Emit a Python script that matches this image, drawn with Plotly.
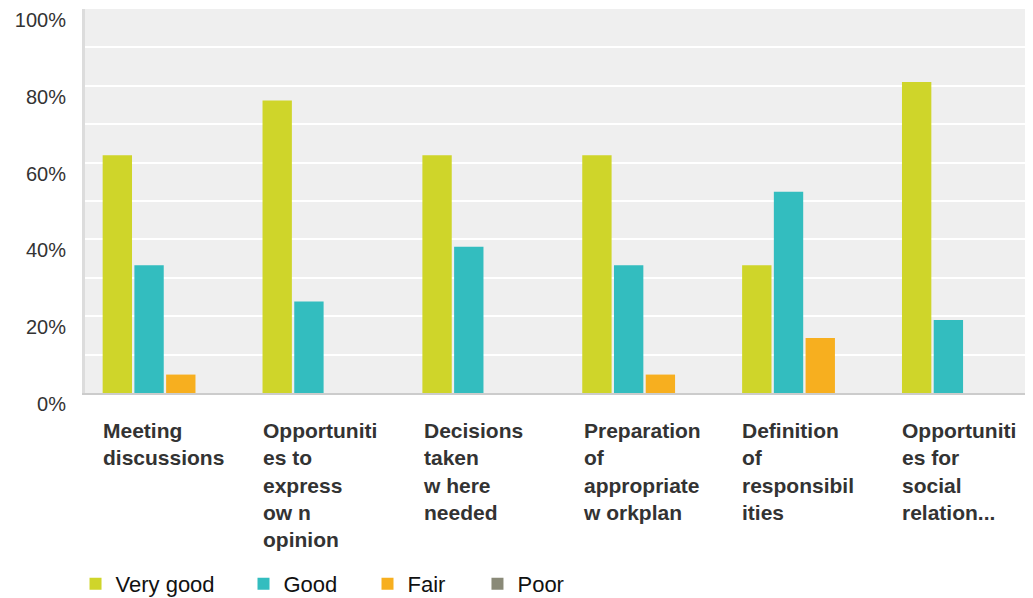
import plotly.graph_objects as go

categories = [
    "Meeting discussions",
    "Opportunities to express own opinion",
    "Decisions taken where needed",
    "Preparation of appropriate workplan",
    "Definition of responsibilities",
    "Opportunities for social relation...",
]
tick_labels = [
    "Meeting<br>discussions",
    "Opportuniti<br>es to<br>express<br>ow n<br>opinion",
    "Decisions<br>taken<br>w here<br>needed",
    "Preparation<br>of<br>appropriate<br>w orkplan",
    "Definition<br>of<br>responsibil<br>ities",
    "Opportuniti<br>es for<br>social<br>relation...",
]
series_names = ["Very good", "Good", "Fair", "Poor"]
very_good = [61.9, 76.2, 61.9, 61.9, 33.3, 81.0]
good = [33.3, 23.8, 38.1, 33.3, 52.4, 19.0]
fair = [4.8, 0, 0, 4.8, 14.3, 0]
poor = [0, 0, 0, 0, 0, 0]
y_ticks = [0, 20, 40, 60, 80, 100]
y_tick_text = ["0%", "20%", "40%", "60%", "80%", "100%"]

colors = ["#CFD52A", "#33BDBF", "#F7AF1F", "#8A8A78"]
values = [very_good, good, fair, poor]
legend_ids = ["legend", "legend2", "legend3", "legend4"]
legend_x = [-0.0100, 0.1672, 0.2980, 0.4140]

FONT = "Liberation Sans, Arial, sans-serif"

fig = go.Figure()
for name, vals, col, lid in zip(series_names, values, colors, legend_ids):
    fig.add_trace(go.Bar(
        x=categories, y=vals, name=name,
        marker=dict(color=col, line=dict(width=0)),
        hoverinfo="skip", legend=lid,
    ))

for cat, lab in zip(categories, tick_labels):
    fig.add_annotation(
        x=cat, xref="x", y=0, yref="paper",
        text="<b>" + lab + "</b>",
        showarrow=False, xanchor="left", yanchor="top",
        align="left", xshift=-64, yshift=-24,
        font=dict(family=FONT, size=21, color="#333333"),
    )

legend_common = dict(
    orientation="h", xanchor="left", y=-0.497, yanchor="middle",
    font=dict(family=FONT, size=22, color="#111111"),
    bgcolor="rgba(0,0,0,0)",
)
layout_legends = {}
for lid, lx in zip(legend_ids, legend_x):
    layout_legends[lid] = dict(legend_common, x=lx)

fig.update_layout(
    width=1025, height=590,
    margin=dict(l=77, r=0, t=1, b=205, autoexpand=False),
    paper_bgcolor="white",
    plot_bgcolor="#EFEFEF",
    barmode="group",
    bargap=0.206,
    bargroupgap=0.075,
    font=dict(family=FONT, size=19, color="#333333"),
    showlegend=True,
    xaxis=dict(
        range=[-0.5, 5.43], automargin=False,
        showticklabels=False, showgrid=False, zeroline=False,
        showline=True, linecolor="#CCCCCC", linewidth=2,
        ticks="",
    ),
    yaxis=dict(
        range=[0, 100], tickvals=y_ticks, ticktext=y_tick_text,
        automargin=False,
        showgrid=True, gridcolor="white", gridwidth=2,
        minor=dict(dtick=10, showgrid=True, gridcolor="white", gridwidth=2),
        zeroline=False, showline=True, linecolor="#DCDCDC", linewidth=3,
        ticks="", ticklabelstandoff=12, ticklabelshift=11,
        ticklabeloverflow="allow",
        tickfont=dict(family=FONT, size=20, color="#333333"),
    ),
    **layout_legends,
)

fig.write_html("out.html")
